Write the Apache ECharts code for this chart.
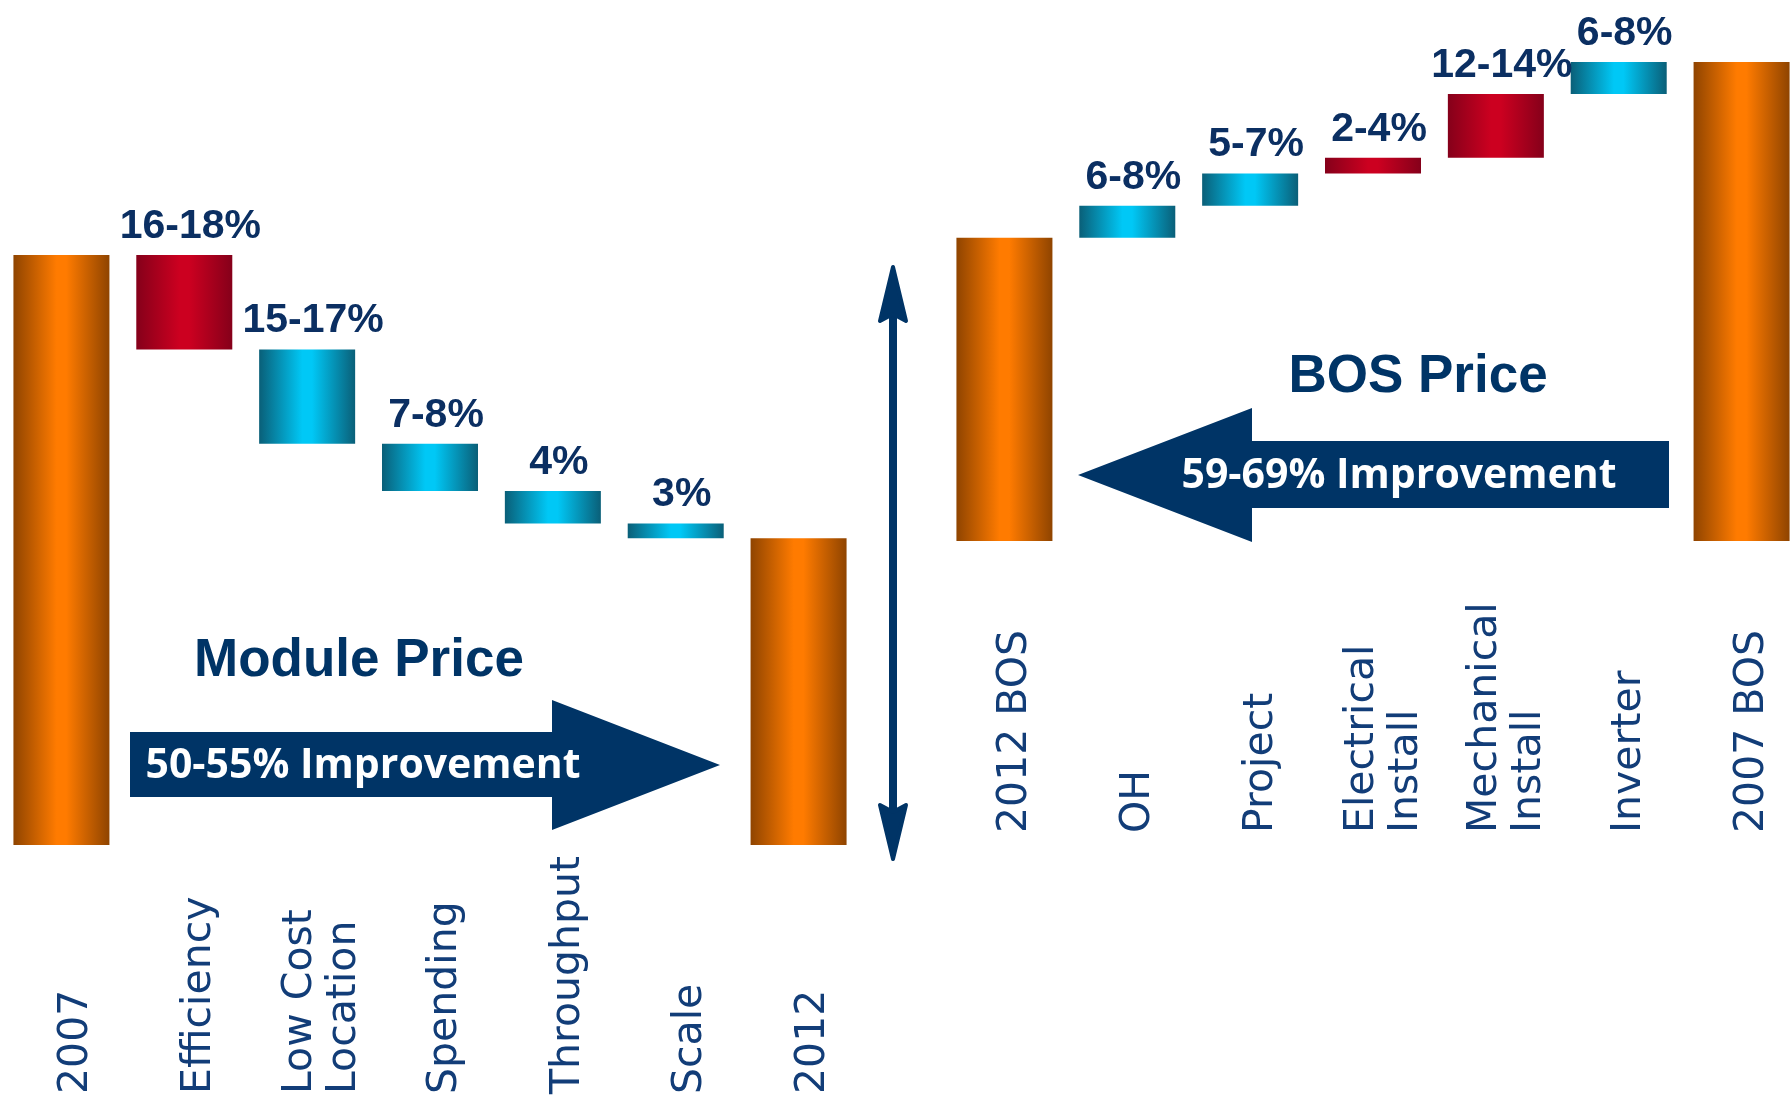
<!DOCTYPE html>
<html lang="en">
<head>
<meta charset="UTF-8">
<title>Module and BOS price</title>
<style>
    html, body { margin: 0; padding: 0; background: #fff; }
    #main { width: 1791px; height: 1104px; }
</style>
</head>
<body>
<div id="main"></div>
<script src="https://cdn.jsdelivr.net/npm/echarts@6/dist/echarts.min.js"></script>
<script>
    // module price walk, 2007 = 100, steps go down
    var moduleCats = ['2007', 'Efficiency', 'Low Cost\nLocation', 'Spending', 'Throughput', 'Scale', '2012'];
    var moduleValues = [100, 16, 16, 8, 5.5, 2.5, 52];
    var moduleKinds = ['total', 'red', 'cyan', 'cyan', 'cyan', 'cyan', 'total'];
    var moduleTags = ['', '16-18%', '15-17%', '7-8%', '4%', '3%', ''];

    // BOS price walk, 2007 BOS = 100, steps go up
    var bosCats = ['2012 BOS', 'OH', 'Project', 'Electrical\nInstall', 'Mechanical\nInstall', 'Inverter', '2007 BOS'];
    var bosValues = [63.3, 6.7, 6.7, 3.3, 13.3, 6.7, 100];
    var bosKinds = ['total', 'cyan', 'cyan', 'red', 'red', 'cyan', 'total'];
    var bosTags = ['', '6-8%', '5-7%', '2-4%', '12-14%', '6-8%', ''];

    var navy = '#003466';
    var labelNavy = '#0b2f62';

    function shade(edge, mid) {
        return {
            type: 'linear', x: 0, y: 0, x2: 1, y2: 0,
            colorStops: [
                {offset: 0, color: edge},
                {offset: 0.45, color: mid},
                {offset: 0.55, color: mid},
                {offset: 1, color: edge}
            ]
        };
    }
    var palette = {
        total: shade('#8f4400', '#ff7b00'),
        red: shade('#85001a', '#cc0020'),
        cyan: shade('#0a5f78', '#00c8f6')
    };

    // invisible base under each floating bar
    function walk(values, dir) {
        var base = [], level = values[0];
        values.forEach(function (v, i) {
            if (i === 0 || i === values.length - 1) { base.push(0); return; }
            if (dir < 0) { level -= v; base.push(level); }
            else { base.push(level); level += v; }
        });
        return base;
    }

    function walkSeries(idx, values, kinds, tags, dir) {
        return [
            {
                type: 'bar', xAxisIndex: idx, yAxisIndex: idx, stack: 's' + idx,
                barWidth: 96, silent: true,
                itemStyle: {color: 'transparent'},
                data: walk(values, dir)
            },
            {
                type: 'bar', xAxisIndex: idx, yAxisIndex: idx, stack: 's' + idx,
                barWidth: 96, silent: true,
                data: values.map(function (v, i) {
                    return {value: v, itemStyle: {color: palette[kinds[i]]}};
                }),
                label: {
                    show: true, position: 'top', distance: 8, offset: [6, 0],
                    formatter: function (p) { return tags[p.dataIndex]; },
                    fontFamily: 'Liberation Sans', fontWeight: 'bold', fontSize: 41,
                    color: labelNavy
                }
            }
        ];
    }

    // bar axes carry no labels; label-only axes sit in slightly shifted grids
    function catAxis(idx, cats, margin) {
        var withLabels = margin > 0;
        return {
            type: 'category', gridIndex: idx, data: cats,
            axisLine: {show: false}, axisTick: {show: false},
            axisLabel: {
                show: withLabels,
                interval: 0, rotate: 90, align: 'left', verticalAlign: 'middle',
                margin: margin, fontFamily: 'DejaVu Sans', fontSize: 41, lineHeight: 44,
                color: '#123d78'
            }
        };
    }
    function valAxis(idx) {
        return {type: 'value', gridIndex: idx, min: 0, max: 100, show: false};
    }

    var myChart = echarts.init(document.getElementById('main'));
    var option = {
        animation: false,
        grid: [
            {left: 0, top: 255, width: 860, height: 590, outerBoundsMode: 'none'},
            {left: 943, top: 62, width: 860, height: 479, outerBoundsMode: 'none'},
            {left: 15, top: 255, width: 860, height: 590, outerBoundsMode: 'none'},
            {left: 954, top: 62, width: 860, height: 479, outerBoundsMode: 'none'}
        ],
        xAxis: [catAxis(0, moduleCats, 0), catAxis(1, bosCats, 0),
            catAxis(2, moduleCats, 249), catAxis(3, bosCats, 292)],
        yAxis: [valAxis(0), valAxis(1), valAxis(2), valAxis(3)],
        series: walkSeries(0, moduleValues, moduleKinds, moduleTags, -1)
            .concat(walkSeries(1, bosValues, bosKinds, bosTags, 1)),
        graphic: [
            // module arrow
            {
                type: 'polygon',
                shape: {points: [[130, 732], [552, 732], [552, 700], [720, 765], [552, 830], [552, 797], [130, 797]]},
                style: {fill: navy}
            },
            {
                type: 'text', x: 363, y: 766,
                style: {text: '50-55% Improvement', fill: '#fff', font: 'bold 41px "Open Sans"', align: 'center', verticalAlign: 'middle'}
            },
            {
                type: 'text', x: 359, y: 661,
                style: {text: 'Module Price', fill: navy, font: 'bold 53px "Liberation Sans"', align: 'center', verticalAlign: 'middle'}
            },
            // BOS arrow
            {
                type: 'polygon',
                shape: {points: [[1669, 441], [1252, 441], [1252, 408], [1078, 475], [1252, 542], [1252, 508], [1669, 508]]},
                style: {fill: navy}
            },
            {
                type: 'text', x: 1399, y: 476,
                style: {text: '59-69% Improvement', fill: '#fff', font: 'bold 41px "Open Sans"', align: 'center', verticalAlign: 'middle'}
            },
            {
                type: 'text', x: 1418, y: 377,
                style: {text: 'BOS Price', fill: navy, font: 'bold 53px "Liberation Sans"', align: 'center', verticalAlign: 'middle'}
            },
            // double headed arrow between the two walks
            {
                type: 'line', shape: {x1: 893, y1: 300, x2: 893, y2: 830},
                style: {stroke: navy, lineWidth: 8}
            },
            {
                type: 'polygon',
                shape: {points: [[893, 267], [906, 321], [893, 314], [880, 321]]},
                style: {fill: navy, stroke: navy, lineWidth: 4, lineJoin: 'round'}
            },
            {
                type: 'polygon',
                shape: {points: [[893, 859], [906, 805], [893, 812], [880, 805]]},
                style: {fill: navy, stroke: navy, lineWidth: 4, lineJoin: 'round'}
            }
        ]
    };
    myChart.setOption(option);
</script>
</body>
</html>
